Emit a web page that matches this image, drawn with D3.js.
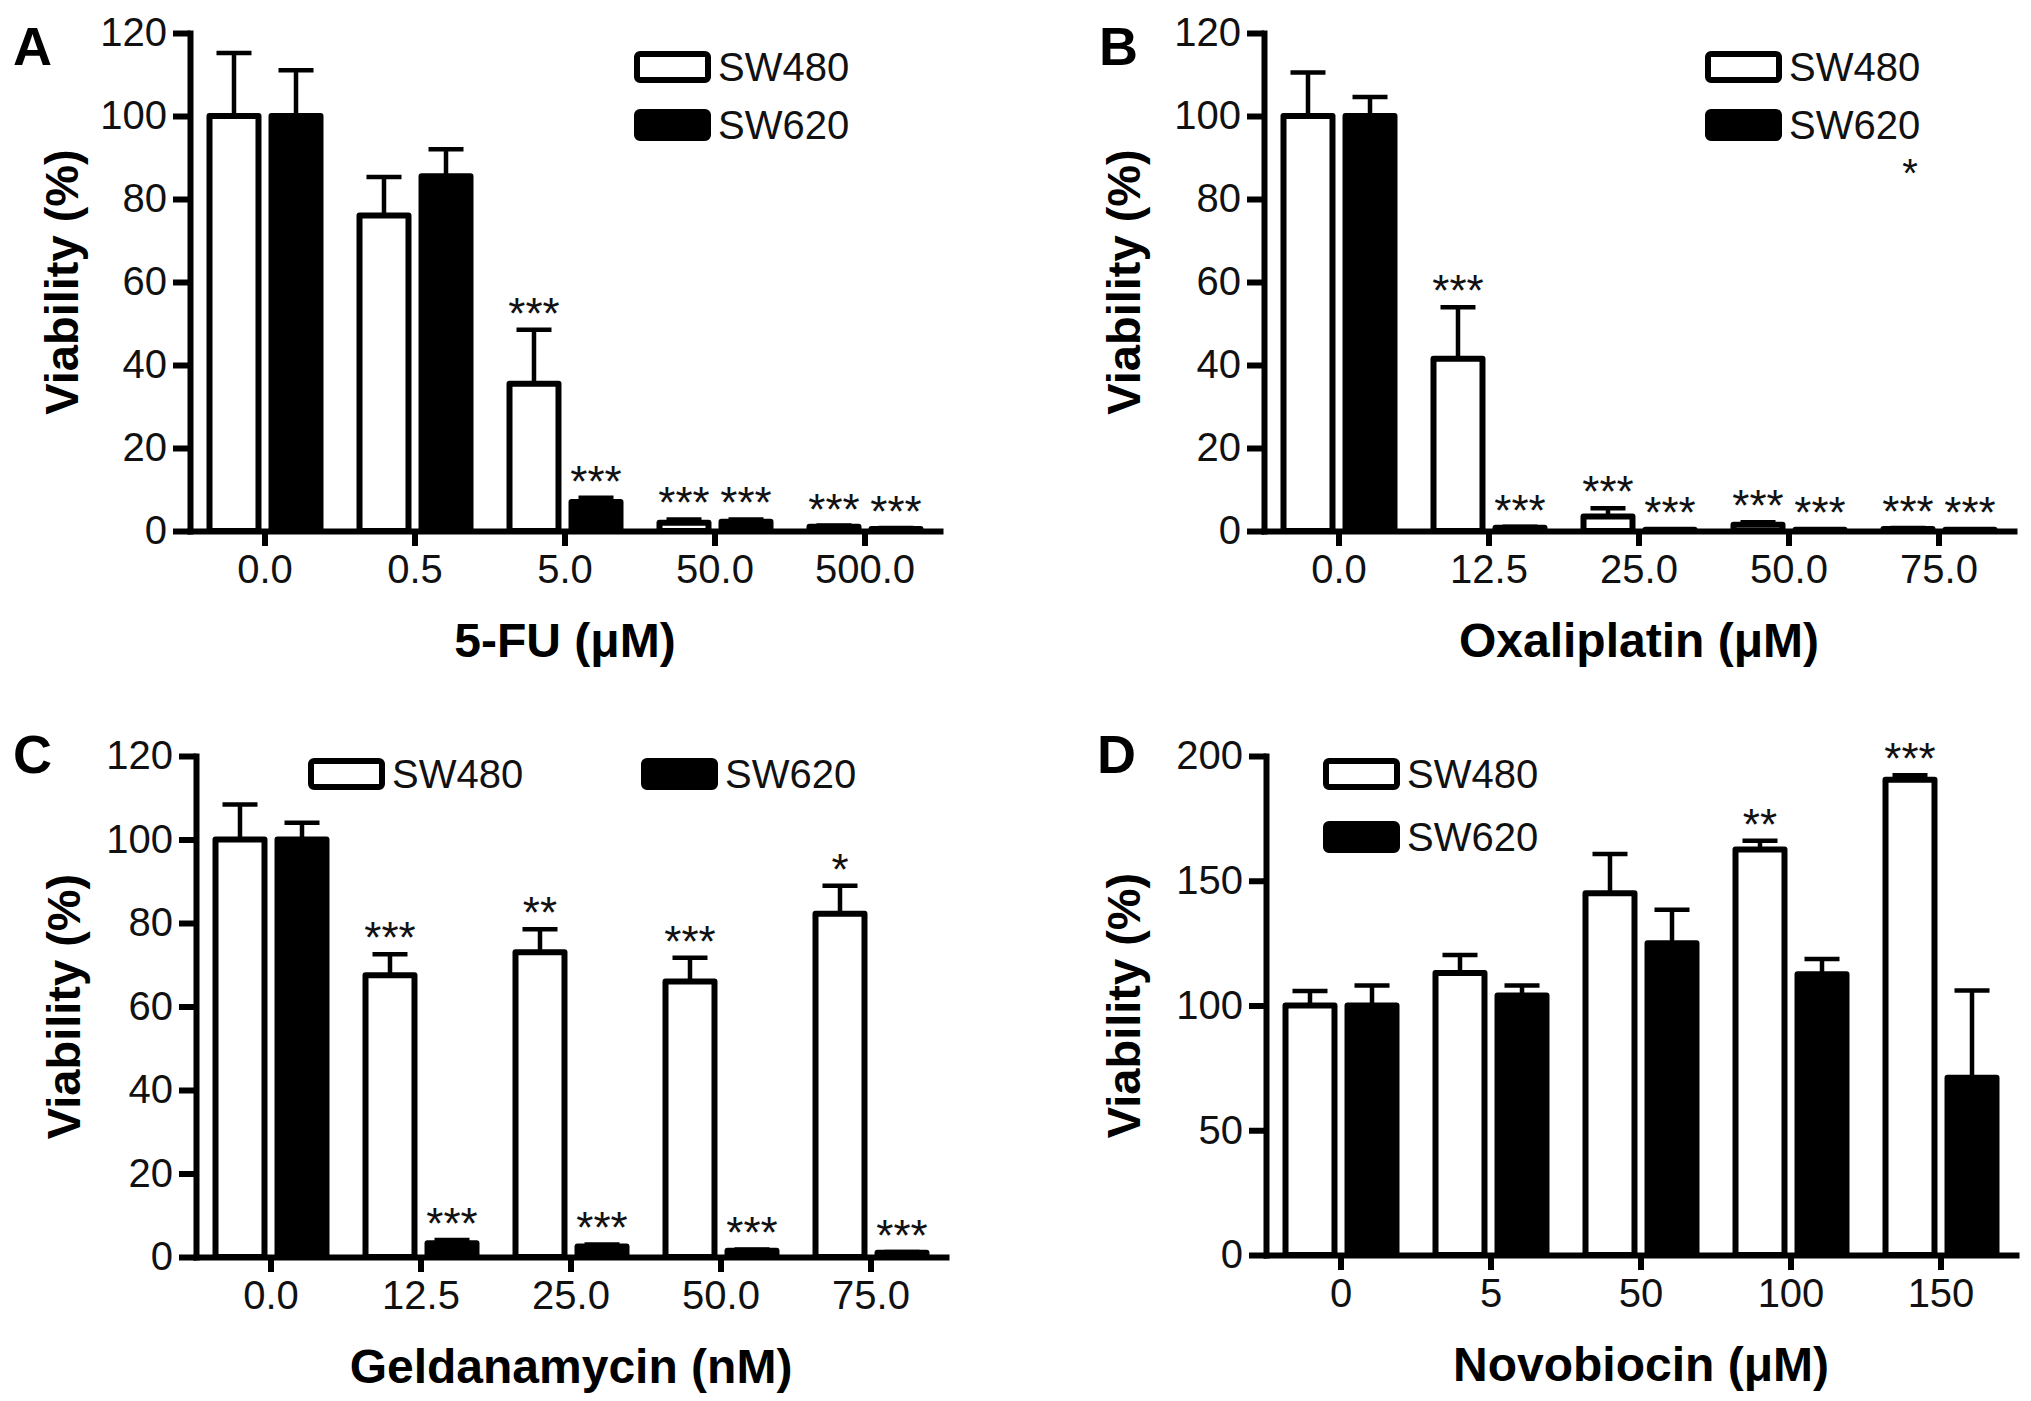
<!DOCTYPE html>
<html>
<head>
<meta charset="utf-8">
<script src="https://cdn.jsdelivr.net/npm/d3@7"></script>
<style>
  html, body { margin: 0; padding: 0; background: #fff; }
  svg { display: block; }
</style>
</head>
<body>
<div id="chart"></div>
<script>
// ===== DATA =====
const cellLines = ['SW480', 'SW620'];

// A: 5-FU
const fuDoses = ['0.0', '0.5', '5.0', '50.0', '500.0'];
const fuSW480 = [100, 76, 35.5, 2, 1];
const fuSW480Err = [15.2, 9.3, 13, 0.8, 0.3];
const fuSW620 = [100, 85.5, 7, 2.2, 0.5];
const fuSW620Err = [11, 6.5, 1, 0.6, 0.2];
const fuStars480 = ['', '', '***', '***', '***'];
const fuStars620 = ['', '', '***', '***', '***'];

// B: Oxaliplatin
const oxaDoses = ['0.0', '12.5', '25.0', '50.0', '75.0'];
const oxaSW480 = [100, 41.5, 3.5, 1.5, 0.5];
const oxaSW480Err = [10.5, 12.4, 2, 0.6, 0.2];
const oxaSW620 = [100, 0.8, 0.3, 0.3, 0.3];
const oxaSW620Err = [4.6, 0.2, 0.1, 0.1, 0.1];
const oxaStars480 = ['', '***', '***', '***', '***'];
const oxaStars620 = ['', '***', '***', '***', '***'];

// C: Geldanamycin
const gelDoses = ['0.0', '12.5', '25.0', '50.0', '75.0'];
const gelSW480 = [100, 67.5, 73, 66, 82.2];
const gelSW480Err = [8.4, 5, 5.5, 5.7, 6.7];
const gelSW620 = [100, 3.3, 2.5, 1.5, 1];
const gelSW620Err = [4, 0.8, 0.5, 0.3, 0.2];
const gelStars480 = ['', '***', '**', '***', '*'];
const gelStars620 = ['', '***', '***', '***', '***'];

// D: Novobiocin
const novDoses = ['0', '5', '50', '100', '150'];
const novSW480 = [100, 113, 145, 162.5, 190.5];
const novSW480Err = [5.8, 7.2, 15.7, 3.5, 1.8];
const novSW620 = [100, 104, 125, 112.5, 71];
const novSW620Err = [8, 4, 13.4, 6.1, 35];
const novStars480 = ['', '', '', '**', '***'];
const novStars620 = ['', '', '', '', ''];

const ticks120 = [0, 20, 40, 60, 80, 100, 120];
const ticks200 = [0, 50, 100, 150, 200];

// ===== LAYOUT =====
const W = 2031, H = 1401;
const FONT = 'Arial, "Liberation Sans", Helvetica, sans-serif';
const barStroke = 6;

const svg = d3.select('#chart').append('svg')
  .attr('width', W)
  .attr('height', H)
  .style('background', '#fff');

const panels = [
  {
    letter: 'A', letterX: 13, letterY: 65,
    left: 190, top: 33, bottom: 531, yMax: 120, yTicks: ticks120,
    doses: fuDoses, values: [fuSW480, fuSW620], errors: [fuSW480Err, fuSW620Err],
    stars: [fuStars480, fuStars620],
    xTitle: '5-FU (\u03bcM)', yTitleX: 78,
    legend: { x: 634, y: 51, dx: 0, dy: 58 }
  },
  {
    letter: 'B', letterX: 1099, letterY: 65,
    left: 1264, top: 33, bottom: 531, yMax: 120, yTicks: ticks120,
    doses: oxaDoses, values: [oxaSW480, oxaSW620], errors: [oxaSW480Err, oxaSW620Err],
    stars: [oxaStars480, oxaStars620],
    xTitle: 'Oxaliplatin (\u03bcM)', yTitleX: 1140,
    legend: { x: 1705, y: 51, dx: 0, dy: 58 },
    stray: { text: '*', x: 1910, y: 187 }
  },
  {
    letter: 'C', letterX: 13, letterY: 773,
    left: 196, top: 756, bottom: 1257, yMax: 120, yTicks: ticks120,
    doses: gelDoses, values: [gelSW480, gelSW620], errors: [gelSW480Err, gelSW620Err],
    stars: [gelStars480, gelStars620],
    xTitle: 'Geldanamycin (nM)', yTitleX: 80,
    legend: { x: 308, y: 758, dx: 333, dy: 0 }
  },
  {
    letter: 'D', letterX: 1097, letterY: 773,
    left: 1266, top: 756, bottom: 1255, yMax: 200, yTicks: ticks200,
    doses: novDoses, values: [novSW480, novSW620], errors: [novSW480Err, novSW620Err],
    stars: [novStars480, novStars620],
    xTitle: 'Novobiocin (\u03bcM)', yTitleX: 1140,
    legend: { x: 1323, y: 758, dx: 0, dy: 63 }
  }
];

const fillFor = d3.scaleOrdinal().domain(cellLines).range(['#fff', '#000']);

function drawPanel(p) {
  const g = svg.append('g');

  const x = d3.scaleBand().domain(p.doses).range([p.left, p.left + 750]);
  const xs = d3.scaleBand().domain(cellLines).range([-55.5, 55.5]).paddingInner(0.21);
  const y = d3.scaleLinear().domain([0, p.yMax]).range([p.bottom, p.top]);

  const rows = p.doses.flatMap((dose, i) => cellLines.map((line, j) => ({
    dose, line,
    v: p.values[j][i],
    e: p.errors[j][i],
    s: p.stars[j][i],
    cx: x(dose) + x.bandwidth() / 2 + xs(line) + xs.bandwidth() / 2
  })));

  // bars
  g.selectAll('rect.bar')
    .data(rows)
    .join('rect')
    .attr('class', 'bar')
    .attr('x', d => d.cx - xs.bandwidth() / 2)
    .attr('y', d => y(d.v))
    .attr('width', xs.bandwidth())
    .attr('height', d => y(0) - y(d.v))
    .attr('fill', d => fillFor(d.line))
    .attr('stroke', '#000')
    .attr('stroke-width', barStroke)
    .attr('stroke-linejoin', 'round');

  // error bars (upper only)
  const err = g.selectAll('g.err')
    .data(rows)
    .join('g')
    .attr('class', 'err')
    .attr('stroke', '#000')
    .attr('stroke-width', 4.5);
  err.append('line')
    .attr('x1', d => d.cx).attr('x2', d => d.cx)
    .attr('y1', d => y(d.v)).attr('y2', d => y(d.v + d.e));
  err.append('line')
    .attr('x1', d => d.cx - 17.5).attr('x2', d => d.cx + 17.5)
    .attr('y1', d => y(d.v + d.e)).attr('y2', d => y(d.v + d.e));

  // significance stars
  g.selectAll('text.star')
    .data(rows.filter(d => d.s))
    .join('text')
    .attr('class', 'star')
    .attr('x', d => d.cx)
    .attr('y', d => y(d.v + d.e) - 1)
    .attr('text-anchor', 'middle')
    .attr('font-family', FONT)
    .attr('font-size', 44)
    .attr('fill', '#111')
    .text(d => d.s);

  // y axis
  const yAxis = g.append('g')
    .attr('transform', `translate(${p.left},0)`)
    .call(d3.axisLeft(y).tickValues(p.yTicks).tickSize(17).tickPadding(6).tickSizeOuter(0));

  // x axis
  const xAxis = g.append('g')
    .attr('transform', `translate(0,${p.bottom})`)
    .call(d3.axisBottom(x).tickSize(15).tickPadding(9).tickSizeOuter(0));

  [yAxis, xAxis].forEach(a => {
    a.select('.domain').attr('stroke', '#000').attr('stroke-width', 6).attr('stroke-linecap', 'square');
    a.selectAll('.tick line').attr('stroke', '#000').attr('stroke-width', 6);
    a.selectAll('.tick text')
      .attr('font-family', FONT)
      .attr('font-size', 40)
      .attr('fill', '#111');
  });

  // axis titles
  g.append('text')
    .attr('transform', `translate(${p.yTitleX},${(p.top + p.bottom) / 2}) rotate(-90)`)
    .attr('text-anchor', 'middle')
    .attr('font-family', FONT)
    .attr('font-weight', 'bold')
    .attr('font-size', 47)
    .text('Viability (%)');

  g.append('text')
    .attr('x', p.left + 375)
    .attr('y', p.bottom + 126)
    .attr('text-anchor', 'middle')
    .attr('font-family', FONT)
    .attr('font-weight', 'bold')
    .attr('font-size', 48)
    .text(p.xTitle);

  // panel letter
  g.append('text')
    .attr('x', p.letterX)
    .attr('y', p.letterY)
    .attr('font-family', FONT)
    .attr('font-weight', 'bold')
    .attr('font-size', 54)
    .text(p.letter);

  // legend
  const lg = g.selectAll('g.legend')
    .data(cellLines)
    .join('g')
    .attr('class', 'legend')
    .attr('transform', (d, i) => `translate(${p.legend.x + i * p.legend.dx},${p.legend.y + i * p.legend.dy})`);
  lg.append('rect')
    .attr('x', 3).attr('y', 3)
    .attr('width', 71).attr('height', 26)
    .attr('rx', 3)
    .attr('fill', d => fillFor(d))
    .attr('stroke', '#000')
    .attr('stroke-width', barStroke);
  lg.append('text')
    .attr('x', 84)
    .attr('y', 16)
    .attr('dy', '0.35em')
    .attr('font-family', FONT)
    .attr('font-size', 40)
    .attr('fill', '#111')
    .text(d => d);

  if (p.stray) {
    g.append('text')
      .attr('x', p.stray.x)
      .attr('y', p.stray.y)
      .attr('text-anchor', 'middle')
      .attr('font-family', FONT)
      .attr('font-size', 40)
      .attr('fill', '#111')
      .text(p.stray.text);
  }
}

panels.forEach(drawPanel);
</script>
</body>
</html>
